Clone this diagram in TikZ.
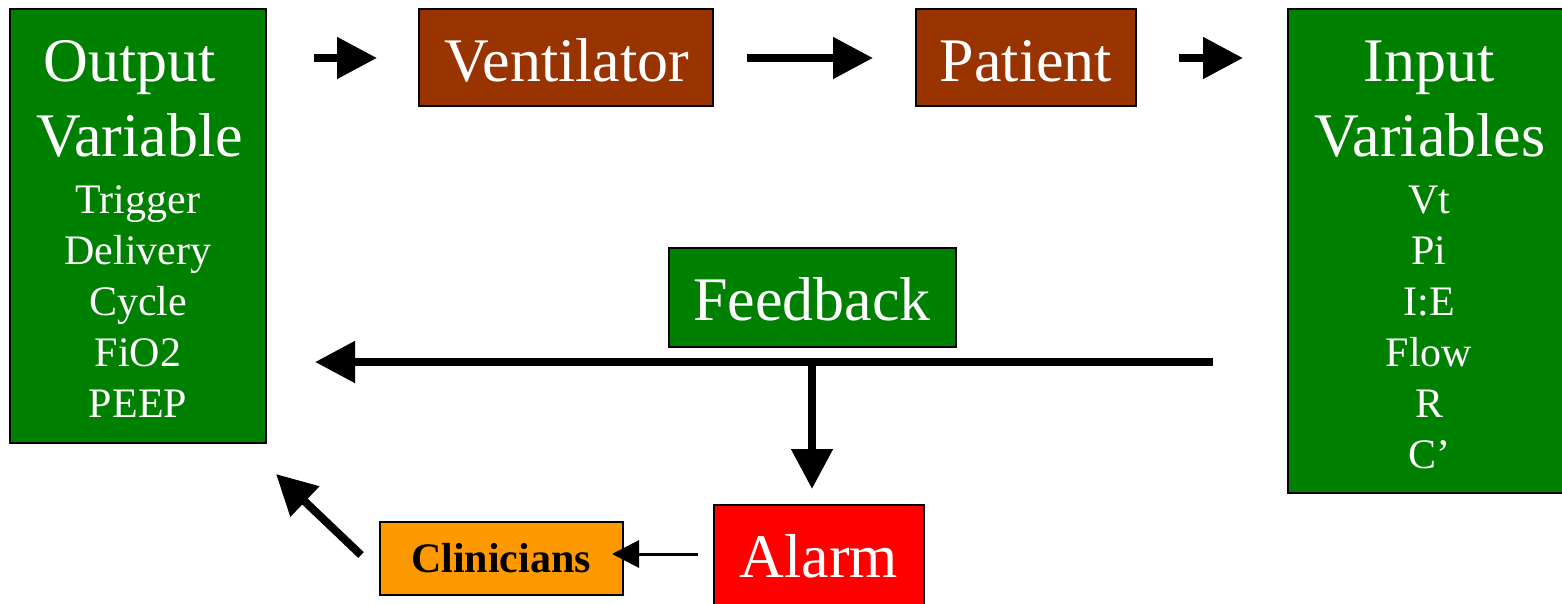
\documentclass[tikz,border=0pt]{standalone}
\usepackage{fontspec}
\setmainfont{Liberation Serif}
\usetikzlibrary{arrows.meta}
\definecolor{boxgreen}{HTML}{008000}
\definecolor{boxbrown}{HTML}{993300}
\definecolor{boxred}{HTML}{FF0000}
\definecolor{boxorange}{HTML}{FF9900}
\begin{document}
\begin{tikzpicture}[x=1pt,y=-1pt,
  box/.style={draw=black,line width=2pt,inner sep=0pt},
  bigtxt/.style={font=\fontsize{62}{62}\selectfont,text=white,inner sep=0pt,anchor=base},
  smalltxt/.style={font=\fontsize{42}{42}\selectfont,text=white,inner sep=0pt,anchor=base},
  cliniciantxt/.style={font=\fontsize{42}{42}\selectfont\bfseries,text=black,inner sep=0pt,anchor=base},
  bigarrow/.style={line width=8pt,-{Triangle[length=40pt,width=40pt]}},
  thinarrow/.style={line width=3pt,-{Triangle[length=27pt,width=27pt]}},
]
\useasboundingbox (0,0) rectangle (1562,604);

% boxes
\node[box,fill=boxgreen,minimum width=256pt,minimum height=433pt] (out) at (138,226) {};
\node[box,fill=boxbrown,minimum width=294pt,minimum height=97pt] (vent) at (565.5,58) {};
\node[box,fill=boxbrown,minimum width=220pt,minimum height=97pt] (pat) at (1026,58) {};
\node[box,fill=boxgreen,minimum width=290pt,minimum height=484pt] (in) at (1433,251) {};
\node[box,fill=boxgreen,minimum width=287pt,minimum height=99pt] (fb) at (812,297.5) {};
\node[box,fill=boxred,minimum width=210pt,minimum height=110pt] (alarm) at (819,560) {};
\node[box,fill=boxorange,minimum width=243pt,minimum height=73pt] (clin) at (501.5,558) {};

% texts
\node[bigtxt] (outt1) at (130,82) {Output};
\node[bigtxt] (outt2) at (139.5,157) {Variable};
\node[smalltxt] (outv1) at (138,213) {Trigger};
\node[smalltxt] (outv2) at (138,264) {Delivery};
\node[smalltxt] (outv3) at (138,315) {Cycle};
\node[smalltxt] (outv4) at (138,366) {FiO2};
\node[smalltxt] (outv5) at (138,417) {PEEP};

\node[bigtxt] (ventt) at (567,82) {Ventilator};
\node[bigtxt] (patt) at (1026,82) {Patient};

\node[bigtxt] (int1) at (1429,82) {Input};
\node[bigtxt] (int2) at (1430,157) {Variables};
\node[smalltxt] (inv1) at (1429,213) {Vt};
\node[smalltxt] (inv2) at (1429,264) {Pi};
\node[smalltxt] (inv3) at (1429,315) {I:E};
\node[smalltxt] (inv4) at (1429,366) {Flow};
\node[smalltxt] (inv5) at (1429,417) {R};
\node[smalltxt] (inv6) at (1429,468) {C’};

\node[bigtxt] (fbt) at (812,320) {Feedback};
\node[bigtxt] (alarmt) at (819,577) {Alarm};
\node[cliniciantxt] (clint) at (501,572) {Clinicians};

% connector end points
\coordinate (a1s) at (314,58);
\coordinate (a1e) at (377,58);
\coordinate (a2s) at (747,58);
\coordinate (a2e) at (873,58);
\coordinate (a3s) at (1179,58);
\coordinate (a3e) at (1243,58);
\coordinate (fbs) at (1213,362);
\coordinate (fbe) at (315,362);
\coordinate (fbj) at (812,362);
\coordinate (fbd) at (812,489);
\coordinate (als) at (698,554);
\coordinate (ale) at (612,554);
\coordinate (cls) at (361,555);
\coordinate (cle) at (276,474);

% connectors
\draw[bigarrow] (a1s) -- (a1e);
\draw[bigarrow] (a2s) -- (a2e);
\draw[bigarrow] (a3s) -- (a3e);
\draw[bigarrow] (fbs) -- (fbe);
\draw[bigarrow] (fbj) -- (fbd);
\draw[thinarrow] (als) -- (ale);
\draw[bigarrow] (cls) -- (cle);
\end{tikzpicture}
\end{document}
